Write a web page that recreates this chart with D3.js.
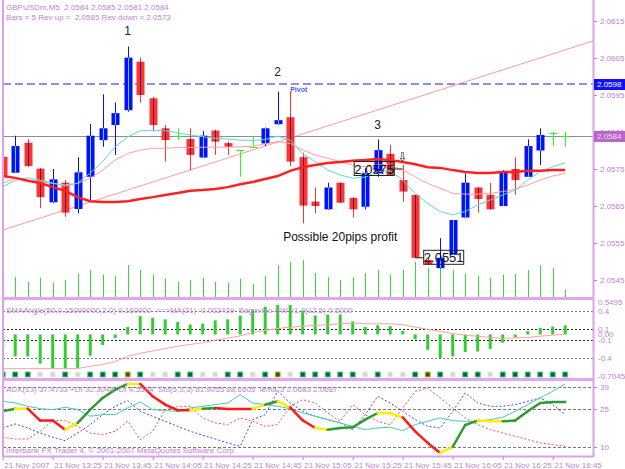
<!DOCTYPE html>
<html>
<head>
<meta charset="utf-8">
<script src="https://cdn.jsdelivr.net/npm/d3@7"></script>
<style>
  body { margin: 0; background: #fff; }
  svg { display: block; font-family: "Liberation Sans", Arial, sans-serif; }
  .lbl { font-size: 8px; fill: #c27fd6; white-space: pre; }
</style>
</head>
<body>
<div id="chart"></div>
<script>
const width = 625, height = 469;

// 5 minute bars, 21 Nov 2007
const times = ["13:05","13:10","13:15","13:20","13:25","13:30","13:35","13:40","13:45","13:50","13:55",
  "14:00","14:05","14:10","14:15","14:20","14:25","14:30","14:35","14:40","14:45","14:50","14:55",
  "15:00","15:05","15:10","15:15","15:20","15:25","15:30","15:35","15:40","15:45","15:50","15:55",
  "16:00","16:05","16:10","16:15","16:20","16:25","16:30","16:35","16:40","16:45","16:50"];

const open  = [2.05783,2.05740,2.05821,2.05751,2.05660,2.05713,2.05642,2.05729,2.05828,2.05869,2.05909,2.06040,2.05941,2.05860,2.05840,2.05831,2.05781,2.05854,2.05820,2.05801,2.05810,2.05819,2.05871,2.05890,2.05782,2.05662,2.05641,2.05713,2.05672,2.05648,2.05738,2.05791,2.05720,2.05680,2.05504,2.05482,2.05518,2.05619,2.05700,2.05680,2.05650,2.05750,2.05729,2.05800,2.05846,2.05840];
const high  = [2.05810,2.05840,2.05831,2.05752,2.05750,2.05720,2.05782,2.05872,2.05952,2.05930,2.06081,2.06051,2.05945,2.05869,2.05860,2.05860,2.05853,2.05856,2.05824,2.05801,2.05840,2.05862,2.05959,2.05959,2.05794,2.05700,2.05713,2.05713,2.05673,2.05752,2.05830,2.05815,2.05761,2.05680,2.05510,2.05563,2.05612,2.05738,2.05700,2.05713,2.05747,2.05782,2.05830,2.05860,2.05851,2.05850];
const low   = [2.05680,2.05739,2.05756,2.05644,2.05658,2.05621,2.05630,2.05666,2.05810,2.05788,2.05905,2.05929,2.05851,2.05770,2.05828,2.05747,2.05780,2.05788,2.05788,2.05729,2.05810,2.05812,2.05870,2.05758,2.05603,2.05630,2.05640,2.05659,2.05619,2.05641,2.05729,2.05734,2.05662,2.05510,2.05490,2.05480,2.05518,2.05619,2.05632,2.05641,2.05650,2.05680,2.05729,2.05761,2.05812,2.05810];
const close = [2.05729,2.05812,2.05758,2.05674,2.05722,2.05632,2.05741,2.05840,2.05860,2.05901,2.06051,2.05950,2.05869,2.05828,2.05840,2.05788,2.05840,2.05824,2.05810,2.05801,2.05810,2.05860,2.05882,2.05770,2.05651,2.05650,2.05700,2.05659,2.05641,2.05738,2.05801,2.05734,2.05689,2.05510,2.05493,2.05510,2.05612,2.05713,2.05669,2.05641,2.05743,2.05720,2.05812,2.05842,2.05846,2.05840];
const volume = [21,25,19,24,18,21,29,34,28,26,40,34,28,23,19,21,24,19,18,23,16,26,40,44,46,30,25,21,25,30,34,28,34,44,36,40,34,29,26,24,28,29,34,40,36,9];

// moving averages on price
const maFast = [2.05702,2.05720,2.05726,2.05720,2.05712,2.05704,2.05712,2.05739,2.05770,2.05810,2.05837,2.05853,2.05855,2.05853,2.05848,2.05842,2.05837,2.05833,2.05831,2.05828,2.05827,2.05830,2.05839,2.05828,2.05791,2.05770,2.05747,2.05734,2.05725,2.05728,2.05743,2.05745,2.05720,2.05684,2.05657,2.05635,2.05626,2.05635,2.05653,2.05666,2.05680,2.05693,2.05720,2.05743,2.05756,2.05767];
const maMid  = [2.05711,2.05725,2.05720,2.05716,2.05711,2.05707,2.05711,2.05725,2.05747,2.05774,2.05792,2.05801,2.05806,2.05806,2.05808,2.05808,2.05809,2.05809,2.05809,2.05810,2.05812,2.05818,2.05824,2.05819,2.05801,2.05788,2.05779,2.05770,2.05761,2.05756,2.05761,2.05761,2.05747,2.05729,2.05711,2.05698,2.05684,2.05682,2.05682,2.05684,2.05689,2.05695,2.05707,2.05720,2.05731,2.05738];
const maSlow = [2.05731,2.05726,2.05718,2.05712,2.05701,2.05691,2.05674,2.05663,2.05661,2.05661,2.05663,2.05669,2.05674,2.05680,2.05685,2.05691,2.05693,2.05696,2.05701,2.05709,2.05715,2.05723,2.05731,2.05745,2.05755,2.05761,2.05766,2.05769,2.05772,2.05774,2.05777,2.05774,2.05769,2.05763,2.05755,2.05753,2.05747,2.05742,2.05739,2.05739,2.05742,2.05742,2.05745,2.05745,2.05747,2.05747];

const pivot = 2.0598, bid = 2.0584;
const trend = [{t: "13:05", p: 2.05585}, {t: "16:50", p: 2.06072}];
const priceTicks = [2.0545, 2.0555, 2.0565, 2.0575, 2.0585, 2.0595, 2.0605, 2.0615];

const marks = [{text: "1", t: "13:55", p: 2.06123}, {text: "2", t: "14:55", p: 2.06011}, {text: "3", t: "15:35", p: 2.05869}];
const note = {text: "Possible 20pips profit", t: "15:20", p: 2.05567};
const priceLabels = [{p: 2.0575, t: "15:45", side: "left"}, {p: 2.0551, t: "15:50", side: "right"}];
const arrowMark = {t: "15:45", p: 2.05783};

// SMAAngle histogram + MA(21), signal squares (0 grey, 1 green, 2 green/orange)
const angle = [-0.25,-0.373,-0.373,-0.495,-0.578,-0.578,-0.567,-0.36,-0.18,-0.06,0.127,0.31,0.283,0.255,0.21,0.167,0.183,0.238,0.255,0.32,0.42,0.47,0.50,0.50,0.405,0.32,0.338,0.338,0.222,0.127,0.155,0.14,0.06,-0.083,-0.26,-0.40,-0.373,-0.30,-0.29,-0.245,-0.14,-0.05,0.055,0.11,0.133,0.155];
const angleMA = [-0.58,-0.58,-0.58,-0.58,-0.58,-0.58,-0.578,-0.54,-0.51,-0.46,-0.37,-0.32,-0.28,-0.24,-0.20,-0.17,-0.14,-0.10,-0.06,-0.025,0.03,0.07,0.10,0.125,0.14,0.153,0.165,0.18,0.19,0.18,0.18,0.18,0.165,0.125,0.087,0.053,0.015,-0.013,-0.03,-0.052,-0.068,-0.058,-0.052,-0.03,-0.013,0.003];
const signal = [1,1,1,0,0,1,0,1,1,1,2,1,0,0,1,1,0,0,1,1,0,1,2,0,1,1,1,1,1,0,1,0,0,1,2,1,0,1,1,0,1,1,1,1,1,1];
const midLevels = [0.4, 0.1, -0.1, -0.4];
const midTicks = [0.5495, 0.4, 0.1, 0, -0.1, -0.4, -0.7045];
const midTickText = ["0.5495", "0.4", "0.1", "0.00", "-0.1", "-0.4", "-0.7045"];

// ADX window (panel units 0..100)
const adx   = [60.1,63.6,63.6,47.9,47.9,36.0,44.8,62.3,77.7,88.6,96.1,96.1,79.9,68.9,61.5,61.5,63.6,64.5,63.2,63.2,63.2,68.9,73.3,65.4,48.3,38.2,36.0,38.2,39.1,49.2,57.9,57.9,52.2,33.8,18.5,5.3,13.2,42.1,47.9,47.0,47.0,47.9,60.1,71.1,72.4,72.4];
const adxSeg = ["","g","y","r","r","r","y","g","g","g","g","y","r","r","r","r","y","g","r","r","r","y","g","y","r","r","y","g","g","g","g","y","y","r","r","r","y","g","g","y","y","g","g","g","g","g"];
const teal  = [73.3,71.1,66.7,63.6,62.3,65.4,62.3,53.6,55.8,55.8,64.5,72.4,62.3,61.0,60.1,64.5,66.7,68.9,71.1,82.1,71.1,68.9,66.7,63.6,57.9,53.6,49.2,44.8,40.4,36.0,38.2,39.1,34.7,42.6,47.0,51.4,47.9,47.0,47.0,49.2,52.2,60.1,68.9,77.7,86.5,96.1];
const blueDash = [38.2,43.5,38.2,31.6,25.9,21.5,31.6,42.6,55.8,66.7,74.2,60.1,53.6,47.0,40.4,33.8,28.6,23.7,18.5,14.1,49.2,55.8,86.5,71.1,60.1,53.6,49.2,44.8,36.0,55.8,79.9,71.1,60.1,49.2,40.4,38.2,60.1,84.3,71.1,66.7,66.7,68.9,73.3,77.7,68.9,55.8];
const redDash  = [25.9,23.7,23.7,33.8,47.9,47.9,40.4,31.6,29.4,33.8,47.0,22.9,33.8,62.3,66.7,66.7,51.4,44.8,42.6,51.4,47.0,40.4,42.6,66.7,75.5,71.1,57.9,47.0,68.9,55.8,47.0,42.6,64.5,86.5,90.8,77.7,64.5,51.4,42.6,36.0,31.6,27.2,22.9,18.5,16.3,14.1];
const botLevels = [92.1, 63.2, 13.2];
const botLevelText = ["39", "25", "10"];

const xTickTimes = ["13:05","13:25","13:45","14:05","14:25","14:45","15:05","15:25","15:45","16:05","16:25","16:45"];
const xTickText = ["21 Nov 2007","21 Nov 13:25","21 Nov 13:45","21 Nov 14:05","21 Nov 14:25","21 Nov 14:45","21 Nov 15:05","21 Nov 15:25","21 Nov 15:45","21 Nov 16:05","21 Nov 16:25","21 Nov 16:45"];

const parseT = d3.timeParse("%Y-%m-%d %H:%M");
const T = s => parseT("2007-11-21 " + s);

const L = 3, R = 593;
const main = {top: 3, bottom: 297}, mid = {top: 300, bottom: 378}, bot = {top: 381, bottom: 456};

const x = d3.scaleTime().domain([T(times[0]), T(times[times.length - 1])]).range([2.7, 565.2]);
const y = d3.scaleLinear().domain([2.0545, 2.0615]).range([280, 21]);
const yv = d3.scaleLinear().domain([0, 50]).range([297, 257]);
const ym = d3.scaleLinear().domain([-0.7045, 0.5495]).range([376, 302]);
const yb = d3.scaleLinear().domain([0, 100]).range([457, 381]);
const xi = i => x(T(times[i]));

const svg = d3.select("#chart").append("svg")
  .attr("width", width).attr("height", height);
svg.append("rect").attr("width", width).attr("height", height).attr("fill", "#fff");

const defs = svg.append("defs");
[["cMain", main], ["cMid", mid], ["cBot", bot]].forEach(([id, p]) => {
  defs.append("clipPath").attr("id", id).append("rect")
    .attr("x", L + 1).attr("y", p.top).attr("width", R - L - 1).attr("height", p.bottom - p.top);
});

// ---------- main window ----------
const gm = svg.append("g").attr("clip-path", "url(#cMain)");

gm.selectAll(".vol").data(volume).join("line")
  .attr("x1", (d, i) => Math.round(xi(i)) + 0.5).attr("x2", (d, i) => Math.round(xi(i)) + 0.5)
  .attr("y1", yv(0)).attr("y2", d => yv(d))
  .attr("stroke", "#33dd33");

// trend line extended to the right edge
const tp = d3.scaleLinear().domain([T(trend[0].t), T(trend[1].t)]).range([trend[0].p, trend[1].p]);
const tEnd = x.invert(R);
gm.append("line")
  .attr("x1", x(T(trend[0].t))).attr("y1", y(trend[0].p))
  .attr("x2", R).attr("y2", y(tp(tEnd)))
  .attr("stroke", "#ff9a9a");

gm.append("line").attr("x1", L).attr("x2", R)
  .attr("y1", Math.round(y(bid)) + 0.5).attr("y2", Math.round(y(bid)) + 0.5)
  .attr("stroke", "#8c8c9c");

gm.append("line").attr("x1", L).attr("x2", R)
  .attr("y1", y(pivot)).attr("y2", y(pivot))
  .attr("stroke", "#8e8ef2").attr("stroke-width", 2).attr("stroke-dasharray", "8,4");

gm.append("text").attr("x", x(T("15:00"))).attr("y", y(pivot) + 8)
  .attr("font-size", 7).attr("font-weight", "bold").attr("fill", "#4b5cff").text("Pivot");

// candles
const bars = times.map((t, i) => ({i, o: open[i], h: high[i], l: low[i], c: close[i]}));
const bw = 8;
const cg = gm.selectAll(".candle").data(bars).join("g");
cg.each(function(d) {
  const g = d3.select(this);
  const cx = Math.round(xi(d.i)) + 0.5;
  if (d.o === d.c) {
    g.append("line").attr("x1", cx).attr("x2", cx).attr("y1", y(d.h)).attr("y2", y(d.l))
      .attr("stroke", "#22ff22");
    g.append("line").attr("x1", cx - bw / 2).attr("x2", cx + bw / 2)
      .attr("y1", Math.round(y(d.o)) + 0.5).attr("y2", Math.round(y(d.o)) + 0.5)
      .attr("stroke", "#22ff22");
    return;
  }
  const up = d.c > d.o;
  const col = up ? "#0a0aff" : "#ff3333";
  g.append("line").attr("x1", cx).attr("x2", cx).attr("y1", y(d.h)).attr("y2", y(d.l))
    .attr("stroke", col);
  const top = y(Math.max(d.o, d.c)), b = y(Math.min(d.o, d.c));
  g.append("rect").attr("x", cx - bw / 2).attr("y", top).attr("width", bw)
    .attr("height", Math.max(1, b - top)).attr("fill", col);
  g.append("line").attr("x1", cx).attr("x2", cx).attr("y1", top).attr("y2", b)
    .attr("stroke", up ? "#30e8ff" : "#4a1a48");
});

const line = d3.line().x((d, i) => xi(i)).y(d => y(d));
gm.append("path").datum(maMid).attr("d", line).attr("fill", "none").attr("stroke", "#ff9f9f");
gm.append("path").datum(maFast).attr("d", line).attr("fill", "none").attr("stroke", "#5fd8d0");
gm.append("path").datum(maSlow).attr("d", line).attr("fill", "none").attr("stroke", "#ff2020").attr("stroke-width", 2.5);

// annotations
gm.selectAll(".mark").data(marks).join("text")
  .attr("x", d => x(T(d.t))).attr("y", d => y(d.p))
  .attr("text-anchor", "middle").attr("dominant-baseline", "central")
  .attr("font-size", 12).attr("fill", "#222").text(d => d.text);

gm.append("text").attr("x", x(T(note.t))).attr("y", y(note.p))
  .attr("text-anchor", "middle").attr("dominant-baseline", "central")
  .attr("font-size", 12).attr("fill", "#111").text(note.text);

priceLabels.forEach(d => {
  const bx = x(T(d.t)), by = y(d.p);
  const x0 = d.side === "left" ? bx - 49 : bx + 8;
  gm.append("line").attr("x1", d.side === "left" ? x0 + 40 : bx).attr("x2", d.side === "left" ? bx : x0)
    .attr("y1", by).attr("y2", by).attr("stroke", "#222");
  gm.append("rect").attr("x", x0 + 0.5).attr("y", by - 7.5).attr("width", 40).attr("height", 14)
    .attr("fill", "none").attr("stroke", "#222");
  gm.append("text").attr("x", x0 + 20.5).attr("y", by).attr("text-anchor", "middle")
    .attr("dominant-baseline", "central").attr("font-size", 13).attr("fill", "#111")
    .text(d3.format(".4f")(d.p));
});

gm.append("text").attr("x", x(T(arrowMark.t))).attr("y", y(arrowMark.p))
  .attr("text-anchor", "middle").attr("dominant-baseline", "central")
  .attr("font-family", "DejaVu Sans").attr("font-size", 12).attr("fill", "#222").text("\u21E9");

// ---------- SMAAngle window ----------
const gmid = svg.append("g").attr("clip-path", "url(#cMid)");
gmid.selectAll(".lev").data(midLevels).join("line")
  .attr("x1", L).attr("x2", R)
  .attr("y1", d => Math.round(ym(d)) + 0.5).attr("y2", d => Math.round(ym(d)) + 0.5)
  .attr("stroke", d => Math.abs(d) < 0.2 ? "#222" : "#777").attr("stroke-dasharray", "2,2");
gmid.selectAll(".hist").data(angle).join("line")
  .attr("x1", (d, i) => xi(i)).attr("x2", (d, i) => xi(i))
  .attr("y1", ym(0)).attr("y2", d => ym(d))
  .attr("stroke", "#33cc33").attr("stroke-width", 3);
gmid.append("path").datum(angleMA)
  .attr("d", d3.line().x((d, i) => xi(i)).y(d => ym(d)))
  .attr("fill", "none").attr("stroke", "#ff9f9f");
gmid.selectAll(".sig").data(signal).join("rect")
  .attr("x", (d, i) => xi(i) - 2.5).attr("y", mid.bottom - 6).attr("width", 5).attr("height", 5)
  .attr("fill", d => d ? "#0b6b1b" : "#d4d4d4")
  .attr("stroke", d => d === 2 ? "#ffaa22" : d ? "#55ccaa" : "#eeeeee");

// ---------- ADX window ----------
const gb = svg.append("g").attr("clip-path", "url(#cBot)");
gb.selectAll(".lev").data(botLevels).join("line")
  .attr("x1", L).attr("x2", R)
  .attr("y1", d => Math.round(yb(d)) + 0.5).attr("y2", d => Math.round(yb(d)) + 0.5)
  .attr("stroke", "#777").attr("stroke-dasharray", "3,2");
const lineB = d3.line().x((d, i) => xi(i)).y(d => yb(d));
gb.append("path").datum(redDash).attr("d", lineB).attr("fill", "none")
  .attr("stroke", "#ff4a4a").attr("stroke-dasharray", "2,2");
gb.append("path").datum(blueDash).attr("d", lineB).attr("fill", "none")
  .attr("stroke", "#4646ff").attr("stroke-dasharray", "2,2");
gb.append("path").datum(teal).attr("d", lineB).attr("fill", "none").attr("stroke", "#4cc8b0");
const segCol = {g: "#2f9a2f", y: "#ffee00", r: "#ff1a1a"};
gb.selectAll(".adx").data(adx.slice(1)).join("line")
  .attr("x1", (d, i) => xi(i)).attr("y1", (d, i) => yb(adx[i]))
  .attr("x2", (d, i) => xi(i + 1)).attr("y2", d => yb(d))
  .attr("stroke", (d, i) => segCol[adxSeg[i + 1]]).attr("stroke-width", 2.5)
  .attr("stroke-linecap", "round");

// ---------- frame, axes, texts ----------
const frame = "#d9a3ea";
svg.append("line").attr("x1", L).attr("x2", L).attr("y1", 0).attr("y2", bot.bottom + 1)
  .attr("stroke", frame).attr("stroke-width", 2);
svg.append("line").attr("x1", R + 0.5).attr("x2", R + 0.5).attr("y1", 0).attr("y2", bot.bottom + 1)
  .attr("stroke", frame).attr("stroke-width", 2);
[main.bottom + 1.5, mid.bottom + 1.5].forEach(v => {
  svg.append("line").attr("x1", L).attr("x2", R + 1).attr("y1", v).attr("y2", v)
    .attr("stroke", "#e2a6ee").attr("stroke-width", 3);
});
svg.append("line").attr("x1", L).attr("x2", R + 1).attr("y1", bot.bottom + 0.5).attr("y2", bot.bottom + 0.5)
  .attr("stroke", frame).attr("stroke-width", 2);

function styleAxis(g) {
  g.select(".domain").remove();
  g.selectAll(".tick line").attr("stroke", "#c27fd6");
  g.selectAll(".tick text").attr("fill", "#c27fd6").attr("font-size", 8)
    .attr("font-family", "Liberation Sans, Arial, sans-serif");
}

svg.append("g").attr("transform", `translate(${R + 1},0)`)
  .call(d3.axisRight(y).tickValues(priceTicks).tickFormat(d3.format(".4f")).tickSize(3).tickPadding(3))
  .call(styleAxis);

svg.append("g").attr("transform", `translate(${R + 1},0)`)
  .call(d3.axisRight(ym).tickValues(midTicks).tickFormat((d, i) => midTickText[i]).tickSize(0).tickPadding(4))
  .call(styleAxis);

svg.append("g").attr("transform", `translate(${R + 1},0)`)
  .call(d3.axisRight(yb).tickValues(botLevels).tickFormat((d, i) => botLevelText[i]).tickSize(3).tickPadding(3))
  .call(styleAxis);

const xa = svg.append("g").attr("transform", `translate(0,${bot.bottom + 1})`)
  .call(d3.axisBottom(x).tickValues(xTickTimes.map(T)).tickFormat((d, i) => xTickText[i]).tickSize(3).tickPadding(2))
  .call(styleAxis);
xa.selectAll(".tick text").attr("text-anchor", "start").attr("dx", 1);

// price boxes on the right scale
[[pivot, "#1010ff", "#ffffff"], [bid, "#b866c8", "#f4dcf6"]].forEach(([p, bg, fg]) => {
  svg.append("rect").attr("x", R + 1).attr("y", Math.round(y(p)) - 5).attr("width", 31).attr("height", 11).attr("fill", bg);
  svg.append("text").attr("x", R + 4).attr("y", Math.round(y(p)) + 3).attr("font-size", 8).attr("fill", fg)
    .text(d3.format(".4f")(p));
});

const hdr = [
  ["GBPUSDm,M5  2.0584 2.0585 2.0581 2.0584", 10],
  ["Bars = 5 Rev up =  2.0585 Rev down = 2.0573", 19.5],
  ["SMAAngle(50,0.15000000,2.0) 0.160000  ==>MA(21) -0.002429  Bagovino-SW v1.0(12,5) 0.5000", mid.top + 13],
  ["ADX(13) 37.4733 +DI 32.3044 -DI 4.5584  Sto(5,3,3) 81.9055 88.6605  lema-3 2.0683 2.0687", bot.top + 11],
  ["Interbank FX Trader 4, \u00A9 2001-2007 MetaQuotes Software Corp.", bot.bottom - 3]
];
svg.selectAll(".hdr").data(hdr).join("text").attr("class", "lbl")
  .attr("x", 6).attr("y", d => d[1]).text(d => d[0]);
</script>
</body>
</html>
